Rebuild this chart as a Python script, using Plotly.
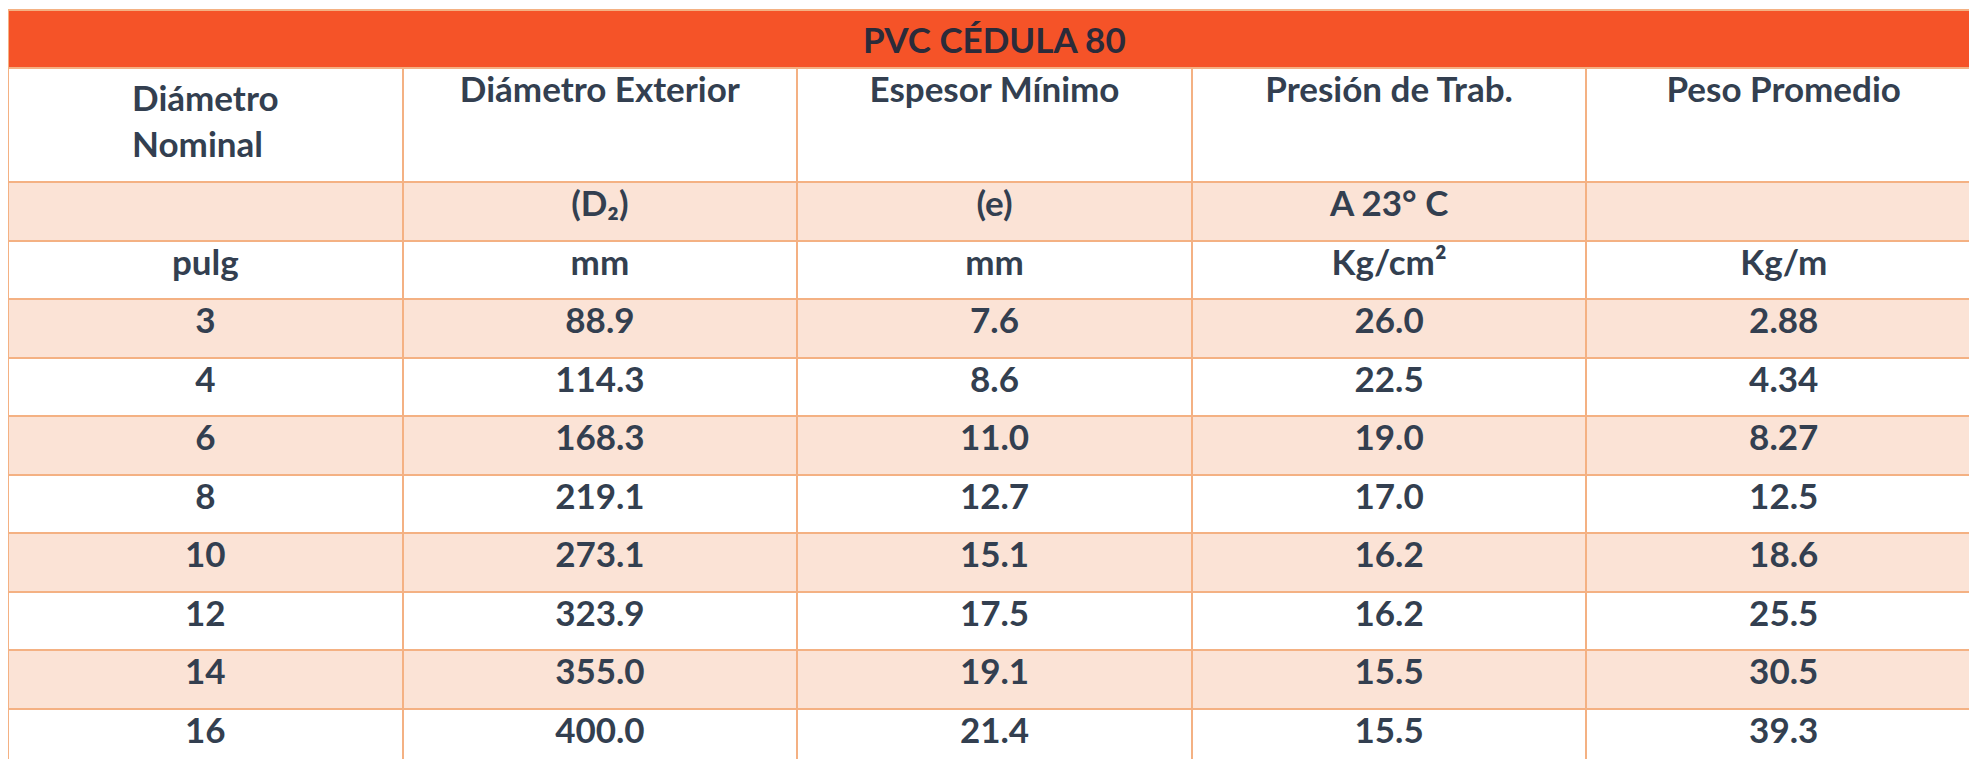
import plotly.graph_objects as go

W, H = 1977, 759

title = "PVC CÉDULA 80"
headers = ["Diámetro<br>Nominal", "Diámetro Exterior", "Espesor Mínimo", "Presión de Trab.", "Peso Promedio"]
sub_row = ["", "(D₂)", "(e)", "A 23° C", ""]
unit_row = ["pulg", "mm", "mm", "Kg/cm²", "Kg/m"]

nominal = ["3", "4", "6", "8", "10", "12", "14", "16"]
ext_diam = ["88.9", "114.3", "168.3", "219.1", "273.1", "323.9", "355.0", "400.0"]
thickness = ["7.6", "8.6", "11.0", "12.7", "15.1", "17.5", "19.1", "21.4"]
pressure = ["26.0", "22.5", "19.0", "17.0", "16.2", "16.2", "15.5", "15.5"]
weight = ["2.88", "4.34", "8.27", "12.5", "18.6", "25.5", "30.5", "39.3"]

PEACH = "#fbe3d6"
LINE = "#f4b183"
TEXT = "#333f50"
FONT = "Lato"
SIZE = 35

data_cols = [nominal, ext_diam, thickness, pressure, weight]
columns = [[sub_row[i], unit_row[i]] + col for i, col in enumerate(data_cols)]
n_rows = 2 + len(nominal)
row_fill = [PEACH if r % 2 == 0 else "white" for r in range(n_rows)]

top = 60 / H
fig = go.Figure(go.Table(
    domain=dict(x=[0, 1973 / W], y=[0, 1 - top]),
    columnwidth=[1, 1, 1, 1, 1],
    header=dict(
        values=headers,
        fill_color="white",
        line=dict(color=LINE, width=2),
        font=dict(family=FONT, size=SIZE, color=TEXT, weight="bold"),
        align="center",
        height=114,
    ),
    cells=dict(
        values=columns,
        fill_color=[row_fill] * 5,
        line=dict(color=LINE, width=2),
        font=dict(family=FONT, size=SIZE, color=TEXT, weight="bold"),
        align="center",
        height=58.5,
    ),
))

fig.add_shape(type="rect", xref="paper", yref="paper",
              x0=0, x1=1973 / W, y0=1 - top, y1=1 - 2 / H,
              fillcolor="#f55328", line=dict(color=LINE, width=2))
fig.add_annotation(text=title, xref="paper", yref="paper", x=0.5 * 1973 / W,
                   y=1 - 31 / H, yanchor="middle", xanchor="center", showarrow=False,
                   font=dict(family=FONT, size=SIZE, color="#2b2b3a", weight="bold"))

fig.update_layout(width=W, height=H, margin=dict(l=0, r=0, t=0, b=0),
                  paper_bgcolor="white")
fig.write_html("out.html")
